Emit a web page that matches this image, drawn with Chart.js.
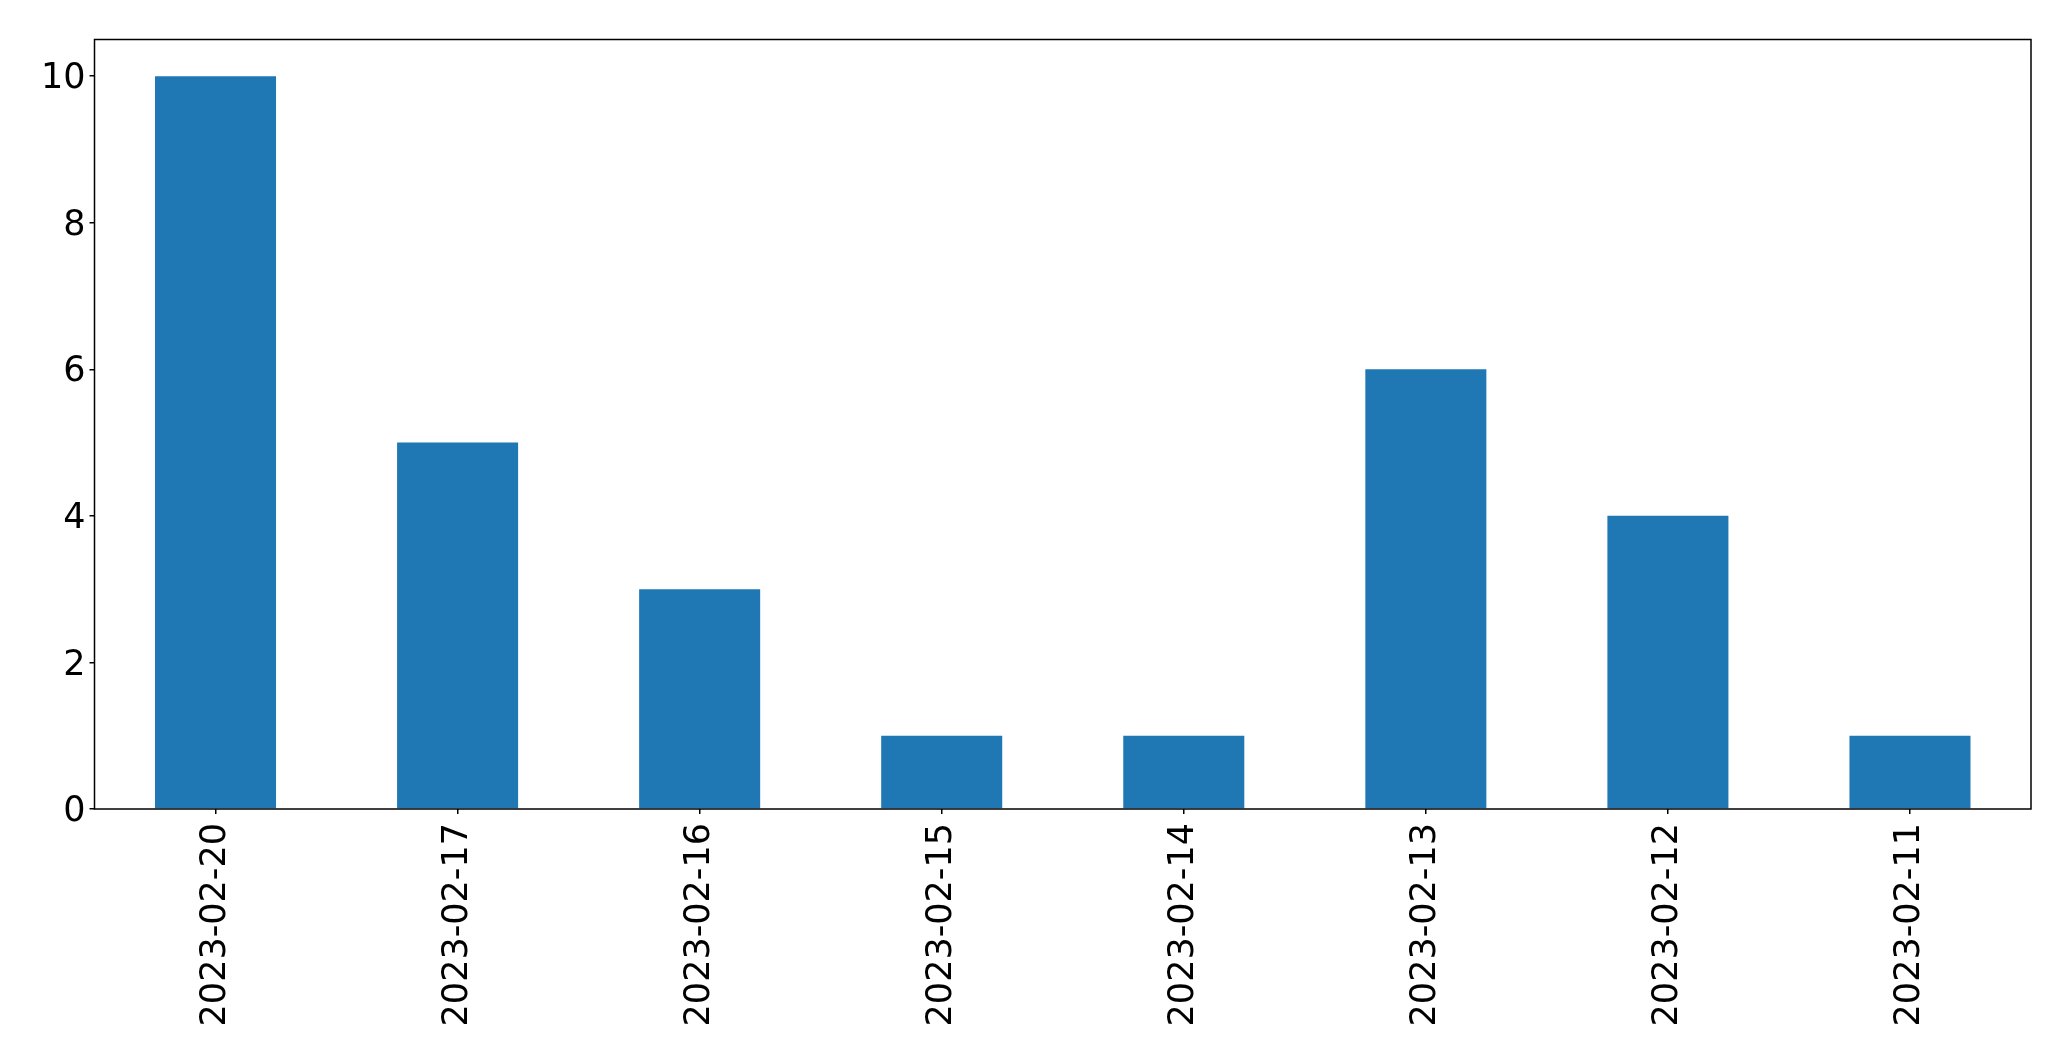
<!DOCTYPE html>
<html>
<head>
<meta charset="utf-8">
<script src="https://cdn.jsdelivr.net/npm/chart.js@4/dist/chart.umd.min.js"></script>
<style>
    html, body { margin: 0; padding: 0; background: #fff; }
    #wrap { width: 2071px; height: 1061px; }
</style>
</head>
<body>
<div id="wrap"><canvas id="chart"></canvas></div>
<script>
const dates = ["2023-02-20", "2023-02-17", "2023-02-16", "2023-02-15", "2023-02-14", "2023-02-13", "2023-02-12", "2023-02-11"];
const counts = [10, 5, 3, 1, 1, 6, 4, 1];
const yTicks = [0, 2, 4, 6, 8, 10];

// 축 테두리 그리기
const frame = {
    id: "frame",
    afterDraw(chart) {
        const a = chart.chartArea;
        const ctx = chart.ctx;
        ctx.save();
        ctx.strokeStyle = "#000";
        ctx.lineWidth = 1.5;
        ctx.strokeRect(a.left, a.top, a.right - a.left, a.bottom - a.top);
        ctx.restore();
    }
};

const font = { family: "'DejaVu Sans'", size: 35 };

new Chart(document.getElementById("chart"), {
    type: "bar",
    data: {
        labels: dates,
        datasets: [{
            data: counts,
            backgroundColor: "#1f77b4",
            barPercentage: 0.5,
            categoryPercentage: 1.0
        }]
    },
    options: {
        responsive: true,
        maintainAspectRatio: false,
        animation: false,
        layout: { padding: { top: 39.5, right: 40, left: 0, bottom: 0 } },
        plugins: { legend: { display: false }, tooltip: { enabled: false } },
        scales: {
            x: {
                offset: true,
                grid: { offset: false, drawOnChartArea: false, drawTicks: true, tickLength: 5, color: "#000", lineWidth: 1.5 },
                border: { display: false },
                ticks: { color: "#000", font: font, minRotation: 90, maxRotation: 90, padding: 9, autoSkip: false },
                afterFit(scale) { scale.height = 1061 - 809; }
            },
            y: {
                min: 0,
                max: 10.5,
                grid: { drawOnChartArea: false, drawTicks: true, tickLength: 5, color: "#000", lineWidth: 1.5 },
                border: { display: false },
                ticks: { color: "#000", font: font, padding: 4, labelOffset: 3 },
                afterBuildTicks(scale) { scale.ticks = yTicks.map(v => ({ value: v })); },
                afterFit(scale) { scale.width = 94.5; }
            }
        }
    },
    plugins: [frame]
});
</script>
</body>
</html>
